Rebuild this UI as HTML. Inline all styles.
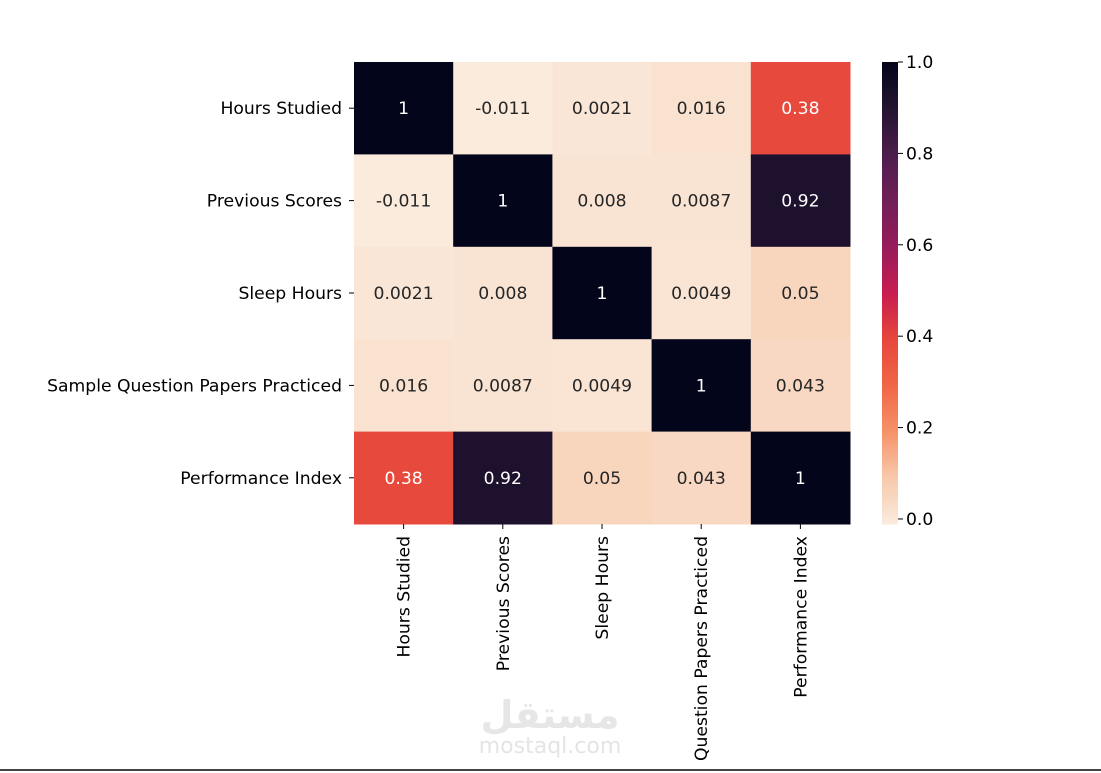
<!DOCTYPE html>
<html><head><meta charset="utf-8"><style>
html,body{margin:0;padding:0;background:#fff;width:1101px;height:773px;overflow:hidden}
svg text{font-family:"DejaVu Sans","Liberation Sans",sans-serif}
</style></head><body>
<svg id="chart" width="1101" height="773" xmlns="http://www.w3.org/2000/svg">
<g id="cells"></g>
<g id="ylabels"></g>
<g id="xlabels"></g>
<g id="cbar"></g>
<text x="550" y="728" text-anchor="middle" font-size="38" font-weight="bold" fill="#e6e6e6" style="font-family:'DejaVu Sans',sans-serif">مستقل</text>
<text x="550" y="753" text-anchor="middle" font-size="22" fill="#e4e4e4">mostaql.com</text>
<rect x="0" y="769" width="1101" height="2" fill="#444"/>
</svg>
<script>
const rowLabels = ["Hours Studied","Previous Scores","Sleep Hours","Sample Question Papers Practiced","Performance Index"];
const colLabels = ["Hours Studied","Previous Scores","Sleep Hours","Question Papers Practiced","Performance Index"];
const values = [
 [1,-0.011,0.0021,0.016,0.38],
 [-0.011,1,0.008,0.0087,0.92],
 [0.0021,0.008,1,0.0049,0.05],
 [0.016,0.0087,0.0049,1,0.043],
 [0.38,0.92,0.05,0.043,1]
];
const cbarTicks = [0.0,0.2,0.4,0.6,0.8,1.0];
const vmin = -0.011, vmax = 1;

const X0=354, X1=850, Y0=62, Y1=524;
const FS=17.2;
const cw=(X1-X0)/colLabels.length, ch=(Y1-Y0)/rowLabels.length;
const stops=[[0,[3,5,26]],[0.1,[36,20,50]],[0.2,[76,29,75]],[0.3,[112,31,87]],[0.4,[150,28,91]],[0.5,[200,28,80]],[0.6,[230,70,60]],[0.7,[241,102,70]],[0.8,[245,145,105]],[0.9,[247,200,170]],[1,[250,235,221]]];
function rocket(t){t=Math.max(0,Math.min(1,t));for(let i=1;i<stops.length;i++){if(t<=stops[i][0]){const a=stops[i-1],b=stops[i];const f=(t-a[0])/(b[0]-a[0]);const c=a[1].map((v,k)=>Math.round(v+(b[1][k]-v)*f));return `rgb(${c})`;}}return 'rgb(250,235,221)';}
function color(v){return rocket(1-(v-vmin)/(vmax-vmin));}
function xPos(j){return X0+j*cw;}
function yPos(i){return Y0+i*ch;}
const NS="http://www.w3.org/2000/svg";
function mk(tag,attrs,parent){const e=document.createElementNS(NS,tag);for(const k in attrs)e.setAttribute(k,attrs[k]);parent.appendChild(e);return e;}
const cells=document.getElementById('cells');
values.forEach((row,i)=>row.forEach((v,j)=>{
 const r=mk('rect',{x:xPos(j),y:yPos(i),width:cw+0.5,height:ch+0.5,fill:color(v)},cells);
 
 
 const t=mk('text',{x:xPos(j)+cw/2,y:yPos(i)+ch/2+6,'text-anchor':'middle','font-size':FS,fill:v>0.3?'#fff':'#262626'},cells);
 t.textContent=String(v);
 
 
}));
const yl=document.getElementById('ylabels');
rowLabels.forEach((l,i)=>{
 const y=yPos(i)+ch/2;
 mk('line',{x1:X0-5,x2:X0,y1:y,y2:y,stroke:'#000','stroke-width':1},yl);
 const t=mk('text',{x:X0-12,y:y+6,'text-anchor':'end','font-size':FS,fill:'#000'},yl);
 t.textContent=l;
 
 
});
const xl=document.getElementById('xlabels');
colLabels.forEach((l,j)=>{
 const x=xPos(j)+cw/2;
 mk('line',{x1:x,x2:x,y1:Y1,y2:Y1+5,stroke:'#000','stroke-width':1},xl);
 const t=mk('text',{x:x+6,y:Y1+12,'text-anchor':'end','font-size':FS,fill:'#000',transform:`rotate(-90 ${x+6} ${Y1+12})`},xl);
 t.textContent=l;
 
 
});
const cb=document.getElementById('cbar');
const CX=882, CW=16;
function cbY(v){return Y1-(v-vmin)/(vmax-vmin)*(Y1-Y0);}
for(let k=0;k<200;k++){const v=vmin+(vmax-vmin)*k/200;const y=cbY(v+(vmax-vmin)/200);mk('rect',{x:CX,y:y,width:CW,height:(Y1-Y0)/200+0.6,fill:color(v)},cb);}
cbarTicks.forEach(v=>{const y=cbY(v);
 mk('line',{x1:CX+CW,x2:CX+CW+5,y1:y,y2:y,stroke:'#000'},cb);
 const t=mk('text',{x:CX+CW+8,y:y+6,'font-size':FS,fill:'#000'},cb);
 t.textContent=v.toFixed(1);
 
 
});
</script>
</body></html>
